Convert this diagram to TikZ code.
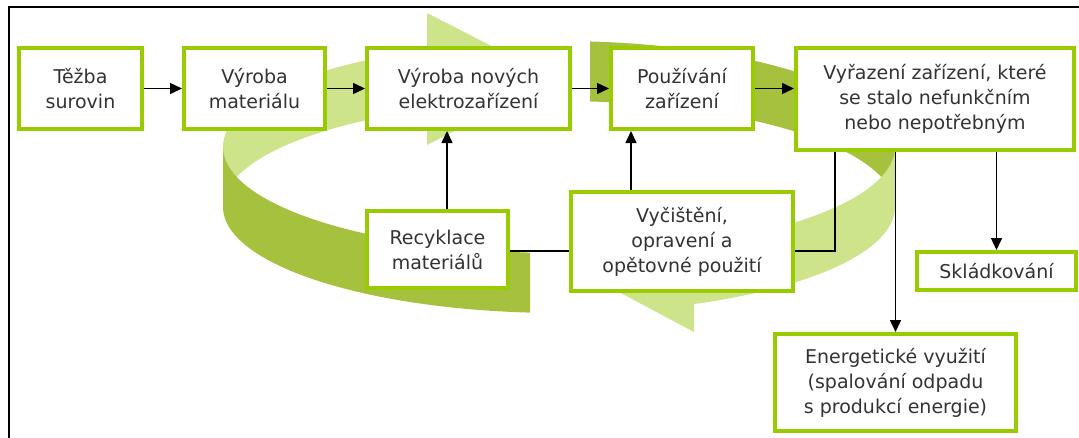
\documentclass[tikz,border=0pt]{standalone}
\usepackage{fontspec}
\setmainfont{DejaVu Sans}
\usetikzlibrary{arrows.meta}
\definecolor{boxgreen}{HTML}{99CC00}
\definecolor{ringlight}{HTML}{CDE48A}
\definecolor{ringdark}{HTML}{A5C13D}
\definecolor{txt}{HTML}{333333}
\tikzset{
  box/.style={draw=boxgreen, line width=4pt, fill=white, align=center,
    inner sep=0pt, text=txt, font=\fontsize{19}{25}\selectfont},
  arr/.style={draw=black, line width=1.5pt, -{Triangle[length=12pt,width=11pt]}},
  link/.style={draw=black, line width=1.5pt},
  frame/.style={draw=black, line width=2.5pt},
  rs/.style={samples=60, variable=\t}
}
\begin{document}
\begin{tikzpicture}[x=1pt,y=-1pt]
\useasboundingbox (0,0) rectangle (1079,437);
\draw[frame] (9,7) rectangle (1100,470);

% ---- ring (back parts) ----
\fill[ringlight] plot[rs,domain=180:247.05] ({559+336*cos(\t)},{147+106*sin(\t)})
  -- plot[rs,domain=247.05:180] ({559+336*cos(\t)},{207+106*sin(\t)}) -- cycle;
\fill[ringlight] (427,13) -- (556,79) -- (427,145) -- cycle;
\fill[ringdark] plot[rs,domain=275.3:360] ({559+336*cos(\t)},{147+106*sin(\t)})
  -- plot[rs,domain=360:275.3] ({559+336*cos(\t)},{207+106*sin(\t)}) -- cycle;
% ---- ring (front parts) ----
\fill[ringdark] plot[rs,domain=94.95:180] ({559+336*cos(\t)},{147+106*sin(\t)})
  -- plot[rs,domain=180:94.95] ({559+336*cos(\t)},{207+106*sin(\t)}) -- cycle;
\fill[ringlight] plot[rs,domain=0:66.5] ({559+336*cos(\t)},{147+106*sin(\t)})
  -- plot[rs,domain=66.5:0] ({559+336*cos(\t)},{207+106*sin(\t)}) -- cycle;
\fill[ringlight] (694,216) -- (585,274) -- (694,332) -- cycle;

% ---- boxes ----
\node[box, minimum width=123pt, minimum height=81pt] (tezba) at (80.5,88.5) {Těžba\\surovin};
\node[box, minimum width=141pt, minimum height=81pt] (vyrmat) at (254.5,88.5) {Výroba\\materiálu};
\node[box, minimum width=203pt, minimum height=81pt] (vyrnov) at (468.5,88.5) {Výroba nových\\elektrozařízení};
\node[box, minimum width=142pt, minimum height=81pt] (pouz) at (682,88.5) {Používání\\zařízení};
\node[box, minimum width=278pt, minimum height=102pt] (vyraz) at (935,99) {Vyřazení zařízení, které\\se stalo nefunkčním\\nebo nepotřebným};
\node[box, minimum width=141pt, minimum height=77pt] (recyk) at (437.5,249.5) {Recyklace\\materiálů};
\node[box, minimum width=222pt, minimum height=99pt] (vycist) at (682,241.5) {Vyčištění,\\opravení a\\opětovné použití};
\node[box, minimum width=159pt, minimum height=38pt] (sklad) at (996.5,271) {Skládkování};
\node[box, minimum width=241pt, minimum height=97pt] (energ) at (895.5,382.5) {Energetické využití\\(spalování odpadu\\s produkcí energie)};

% ---- connectors ----
\draw[arr] (tezba.east) -- (vyrmat.west);
\draw[arr] (vyrmat.east) -- (vyrnov.west);
\draw[arr] (vyrnov.east) -- (pouz.west);
\draw[arr] (pouz.east) -- (pouz.east -| vyraz.west);
\draw[arr] (recyk.north -| 447,0) -- (vyrnov.south -| 447,0);
\draw[arr] (vycist.north -| 631,0) -- (pouz.south -| 631,0);
\draw[link] (recyk.east |- 0,251) -- (vycist.west |- 0,251);
\coordinate (bend) at (835,251);
\draw[link] (vyraz.south -| bend) -- (bend) -- (vycist.east |- bend);
\draw[arr] (vyraz.south -| energ.north) -- (energ.north);
\draw[arr] (vyraz.south -| sklad.north) -- (sklad.north);
\end{tikzpicture}
\end{document}
